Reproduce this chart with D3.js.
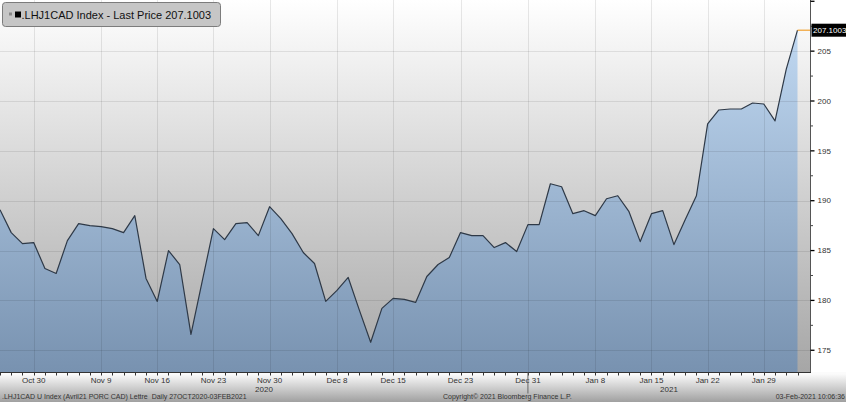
<!DOCTYPE html>
<html>
<meta charset="utf-8">
<title>.LHJ1CAD Index</title>
<script src="https://d3js.org/d3.v7.min.js" charset="utf-8"></script>
<style>
	body { margin: 0; background: #fff; }
	text { font-family: "Liberation Sans", Arial, sans-serif; }
	.axis text { font-size: 8px; fill: #333; }
	.grid line { stroke: #000; stroke-opacity: 0.09; }
</style>
<body>
<script>

	// daily weekday series 27OCT2020 - 03FEB2021
	var startDate = "2020-10-27", endDate = "2021-02-03";
	var values = [189.1, 186.8, 185.7, 185.8, 183.2, 182.7, 186.0, 187.7, 187.5, 187.4,
		187.2, 186.8, 188.5, 182.2, 179.9, 185.0, 183.6, 176.6, 181.9, 187.2,
		186.1, 187.7, 187.8, 186.5, 189.4, 188.2, 186.7, 184.8, 183.7, 179.9,
		181.0, 182.3, 179.0, 175.8, 179.2, 180.2, 180.1, 179.8, 182.4, 183.6,
		184.3, 186.8, 186.5, 186.5, 185.3, 185.8, 184.9, 187.6, 187.6, 191.7,
		191.4, 188.7, 189.0, 188.5, 190.2, 190.5, 188.9, 185.9, 188.7, 189.0,
		185.6, 188.1, 190.5, 197.7, 199.1, 199.2, 199.2, 199.8, 199.7, 198.0,
		203.2, 207.1003];
	var labelDates = ["2020-10-30", "2020-11-09", "2020-11-16", "2020-11-23", "2020-11-30",
		"2020-12-08", "2020-12-15", "2020-12-23", "2020-12-31", "2021-01-08",
		"2021-01-15", "2021-01-22", "2021-01-29"];
	var yTicks = [175, 180, 185, 190, 195, 200, 205, 210];
	var yMinor = [177.5, 182.5, 187.5, 192.5, 197.5, 202.5, 207.5];
	var years = ["2020", "2021"];
	var lastPrice = 207.1003;

	var width = 846, height = 402, plotW = 810, plotH = 372;
	var parse = d3.timeParse("%Y-%m-%d"), fmt = d3.timeFormat("%b %-d");

	var days = d3.timeDay.range(parse(startDate), d3.timeDay.offset(parse(endDate), 1))
		.filter(function(d) { return d.getDay() != 0 && d.getDay() != 6; });
	var data = days.map(function(d, i) { return {date: d, i: i, v: values[i]}; });
	function idx(s) { return d3.bisector(function(d) { return d; }).left(days, parse(s)); }

	var x = d3.scaleLinear().domain([0, days.length - 1]).range([0, 797.5]);
	var y = d3.scaleLinear().domain([172.82, 210.13]).range([plotH, 0]);

	var svg = d3.select("body").append("svg")
		.attr("width", width)
		.attr("height", height);

	var defs = svg.append("defs");
	function grad(id, y1, y2, c1, c2) {
		var g = defs.append("linearGradient").attr("id", id)
			.attr("gradientUnits", "userSpaceOnUse")
			.attr("x1", 0).attr("x2", 0).attr("y1", y1).attr("y2", y2);
		g.append("stop").attr("offset", 0).attr("stop-color", c1);
		g.append("stop").attr("offset", 1).attr("stop-color", c2);
	}
	grad("bgGrad", 0, plotH, "#ffffff", "#a6a6a6");
	grad("areaGrad", 0, plotH, "#c6def7", "#7892b0");
	grad("footGrad", plotH + 2, height, "#fbfbfb", "#a0a0a0");

	svg.append("rect").attr("width", width).attr("height", height).attr("fill", "#fff");
	svg.append("rect").attr("y", plotH).attr("width", width).attr("height", height - plotH)
		.attr("fill", "url(#footGrad)");
	svg.append("rect").attr("width", plotW).attr("height", plotH).attr("fill", "url(#bgGrad)");

	/* area + line */
	var area = d3.area()
		.x(function(d) { return x(d.i); })
		.y0(plotH)
		.y1(function(d) { return y(d.v); });
	var line = d3.line()
		.x(function(d) { return x(d.i); })
		.y(function(d) { return y(d.v); });

	svg.append("path").datum(data).attr("d", area).attr("fill", "url(#areaGrad)");

	/* grid on top, faint */
	var grid = svg.append("g").attr("class", "grid");
	grid.selectAll(".gy").data(yTicks.slice(0, -1)).enter().append("line")
		.attr("x1", 0).attr("x2", plotW)
		.attr("y1", function(d) { return Math.round(y(d)) + 0.5; })
		.attr("y2", function(d) { return Math.round(y(d)) + 0.5; });
	grid.selectAll(".gx").data(labelDates).enter().append("line")
		.attr("x1", function(d) { return Math.round(x(idx(d))) + 0.5; })
		.attr("x2", function(d) { return Math.round(x(idx(d))) + 0.5; })
		.attr("y1", 0).attr("y2", plotH);

	svg.append("path").datum(data).attr("d", line)
		.attr("fill", "none")
		.attr("stroke", "#2e3947")
		.attr("stroke-width", 1.2)
		.attr("stroke-linejoin", "round");

	/* right axis */
	var ya = svg.append("g").attr("class", "axis")
		.attr("transform", "translate(" + (plotW + 0.5) + ",0)");
	ya.append("line").attr("y1", 0).attr("y2", plotH + 0.5).attr("stroke", "#555");
	ya.selectAll(".maj").data(yTicks).enter().append("line")
		.attr("x1", 0).attr("x2", 4)
		.attr("y1", function(d) { return y(d); }).attr("y2", function(d) { return y(d); })
		.attr("stroke", "#000").attr("stroke-width", 1.3);
	ya.selectAll(".min").data(yMinor).enter().append("line")
		.attr("x1", 0).attr("x2", 2.5)
		.attr("y1", function(d) { return y(d); }).attr("y2", function(d) { return y(d); })
		.attr("stroke", "#444");
	ya.selectAll(".lbl").data(yTicks.slice(0, -1)).enter().append("text")
		.attr("x", 7).attr("y", function(d) { return y(d); })
		.attr("dy", "0.34em")
		.text(function(d) { return d; });

	/* last price marker */
	var ly = y(lastPrice);
	svg.append("line")
		.attr("x1", x(days.length - 1)).attr("x2", plotW)
		.attr("y1", ly).attr("y2", ly)
		.attr("stroke", "#f0a030").attr("stroke-width", 1.2);
	svg.append("rect")
		.attr("x", plotW + 1.5).attr("y", ly - 6.5)
		.attr("width", width - plotW - 1.5).attr("height", 13)
		.attr("fill", "#000");
	svg.append("text")
		.attr("x", plotW + 3).attr("y", ly)
		.attr("dy", "0.35em")
		.attr("font-size", "8px").attr("fill", "#fff")
		.text(d3.format(".4f")(lastPrice));

	/* bottom axis */
	var xa = svg.append("g").attr("class", "axis")
		.attr("transform", "translate(0," + (plotH + 0.5) + ")");
	xa.append("line").attr("x1", 0).attr("x2", plotW + 1).attr("stroke", "#333");
	xa.selectAll(".tk").data(data).enter().append("line")
		.attr("x1", function(d) { return Math.round(x(d.i)) + 0.5; })
		.attr("x2", function(d) { return Math.round(x(d.i)) + 0.5; })
		.attr("y1", 0).attr("y2", 3)
		.attr("stroke", "#333");
	xa.selectAll(".xl").data(labelDates).enter().append("text")
		.attr("x", function(d) { return x(idx(d)); })
		.attr("y", 10)
		.attr("text-anchor", "middle")
		.text(function(d) { return fmt(parse(d)); });

	// year split at Dec 31
	var split = x(idx("2020-12-31"));
	xa.append("line").attr("x1", split).attr("x2", split).attr("y1", 0).attr("y2", 21)
		.attr("stroke", "#666");
	xa.selectAll(".yr").data(years).enter().append("text")
		.attr("x", function(d, i) { return i == 0 ? split / 2 : (split + plotW) / 2; })
		.attr("y", 19)
		.attr("text-anchor", "middle")
		.text(function(d) { return d; });

	/* footer */
	var foot = svg.append("g").attr("font-size", "7px").attr("fill", "#333");
	foot.append("text").attr("x", 2).attr("y", 398.5)
		.attr("xml:space", "preserve")
		.text(".LHJ1CAD U Index (Avril21 PORC CAD) Lettre  Daily 27OCT2020-03FEB2021");
	foot.append("text").attr("x", 443).attr("y", 398.5)
		.text("Copyright\u00a9 2021 Bloomberg Finance L.P.");
	foot.append("text").attr("x", 845).attr("y", 398.5).attr("text-anchor", "end")
		.text("03-Feb-2021 10:06:36");

	/* legend */
	var lg = svg.append("g");
	lg.append("rect").attr("x", 2.5).attr("y", 2.5).attr("width", 218).attr("height", 24)
		.attr("rx", 3).attr("fill", "#c6c6c6").attr("stroke", "#7c7c7c");
	lg.append("rect").attr("x", 9).attr("y", 12.5).attr("width", 3).attr("height", 3).attr("fill", "#888");
	lg.append("rect").attr("x", 15).attr("y", 11.5).attr("width", 6).attr("height", 6).attr("fill", "#000");
	lg.append("text").attr("x", 21.5).attr("y", 19)
		.attr("font-size", "11px").attr("fill", "#111")
		.text(".LHJ1CAD Index - Last Price " + d3.format(".4f")(lastPrice));

</script>
</body>
</html>
